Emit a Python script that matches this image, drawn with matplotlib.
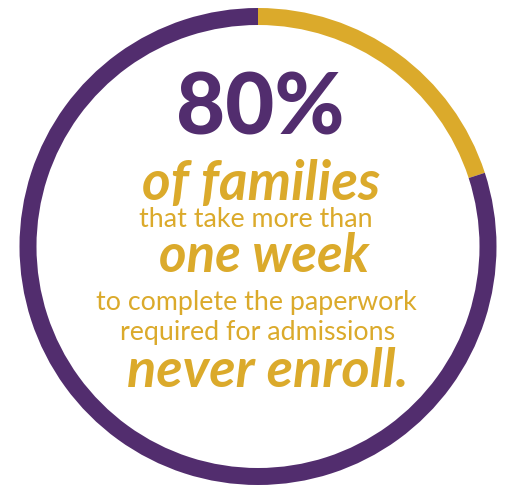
import matplotlib
matplotlib.use("Agg")
import matplotlib.pyplot as plt

# data
labels = ["Enroll / other", "Never enroll"]
shares = [20, 80]
colors = ["#DBAA2B", "#522D6E"]
headline = "80%"
lines = ["that take more than", "to complete the paperwork", "required for admissions"]
script_lines = ["of families", "one week", "never enroll."]

W, H = 506, 489
fig = plt.figure(figsize=(W / 100, H / 100), dpi=100)
ax = fig.add_axes([0, 0, 1, 1])
ax.set_xlim(0, W)
ax.set_ylim(0, H)
ax.set_aspect("equal")
ax.axis("off")

ax.pie(shares, colors=colors, startangle=90, counterclock=False,
       center=(258, H - 247.5), radius=238.5,
       wedgeprops=dict(width=17, edgecolor="none"))
ax.set_xlim(0, W)
ax.set_ylim(0, H)

purple, gold = colors[1], colors[0]

def t(x, y, s, **kw):
    ax.text(x, H - y, s, ha="center", va="center", **kw)

t(260, 110, headline, color=purple, family="Lato", weight="black", fontsize=61)
t(261, 184, script_lines[0], color=gold, family="Lato", style="italic", weight="bold", fontsize=39.5)
t(256, 220, lines[0], color=gold, family="Lato", fontsize=19.3)
t(264, 257, script_lines[1], color=gold, family="Lato", style="italic", weight="bold", fontsize=38)
t(256, 303, lines[1], color=gold, family="Lato", fontsize=19.3)
t(258, 333, lines[2], color=gold, family="Lato", fontsize=19.3)
t(268, 372, script_lines[2], color=gold, family="Lato", style="italic", weight="bold", fontsize=39)

fig.savefig("out.png", dpi=100)
